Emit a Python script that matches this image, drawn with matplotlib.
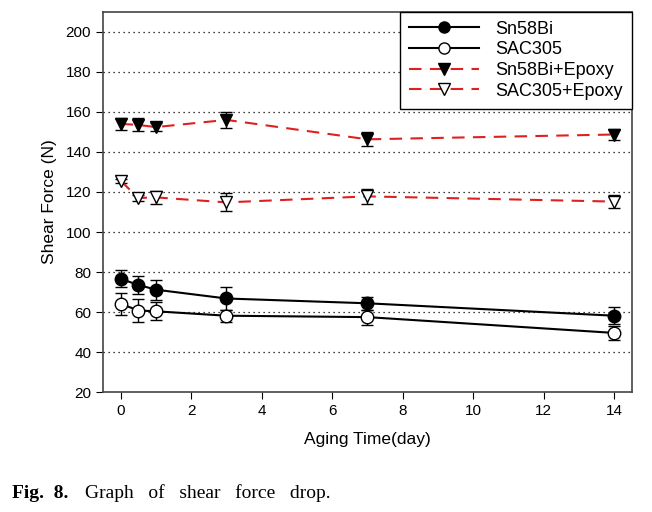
import matplotlib.pyplot as plt
from matplotlib.lines import Line2D

days = [0, 0.5, 1, 3, 7, 14]

sn58bi = [76.6, 73.6, 71.2, 66.8, 64.4, 58.2]
sn58bi_err = [4.2, 4.4, 5.0, 5.7, 3.3, 4.2]

sac305 = [64.2, 60.8, 60.4, 58.2, 57.5, 49.6]
sac305_err = [5.5, 5.5, 4.5, 3.0, 3.7, 3.3]

sn58bi_epoxy = [154.0, 153.5, 152.4, 156.0, 146.3, 148.7]
sn58bi_epoxy_err = [3.0, 3.2, 2.0, 4.0, 3.5, 2.8]

sac305_epoxy = [125.6, 117.0, 117.3, 114.8, 117.8, 115.2]
sac305_epoxy_err = [1.0, 1.5, 3.3, 4.5, 3.8, 3.3]

labels = ["Sn58Bi", "SAC305", "Sn58Bi+Epoxy", "SAC305+Epoxy"]
yticks = [20, 40, 60, 80, 100, 120, 140, 160, 180, 200]
xticks = [0, 2, 4, 6, 8, 10, 12, 14]

plt.rcParams["font.family"] = ["Liberation Sans", "DejaVu Sans"]

fig = plt.figure(figsize=(6.52, 5.12), dpi=100)
ax = fig.add_axes([0.158, 0.234, 0.811, 0.743])

for v in yticks[1:]:
    ax.axhline(v, color="black", linestyle=(0, (1, 3)), linewidth=0.9, zorder=0)

common = dict(capsize=4.5, elinewidth=1, capthick=1, markersize=9, markeredgecolor="black",
              markeredgewidth=1, ecolor="black")
red = "#e02020"
dash = (0, (6, 4))

ax.errorbar(days, sn58bi, yerr=sn58bi_err, color="black", linewidth=1.5, marker="o",
            markerfacecolor="black", **common)
ax.errorbar(days, sac305, yerr=sac305_err, color="black", linewidth=1.5, marker="o",
            markerfacecolor="white", **common)
ax.errorbar(days, sn58bi_epoxy, yerr=sn58bi_epoxy_err, color=red, linewidth=1.5,
            linestyle=dash, marker="v", markerfacecolor="black", **common)
ax.errorbar(days, sac305_epoxy, yerr=sac305_epoxy_err, color=red, linewidth=1.5,
            linestyle=dash, marker="v", markerfacecolor="white", **common)

ax.set_xlim(-0.5, 14.5)
ax.set_ylim(20, 210)
ax.set_xticks(xticks)
ax.set_yticks(yticks)
ax.tick_params(direction="out", length=5, labelsize=11, top=False, right=False)
for s in ax.spines.values():
    s.set_linewidth(1.2)
    s.set_color("#444444")

ax.set_xlabel("Aging Time(day)", fontsize=12.5, labelpad=10)
ax.set_ylabel("Shear Force (N)", fontsize=12.5, labelpad=6)

handles = [
    Line2D([], [], color="black", lw=1.5, marker="o", ms=8, mfc="black", mec="black"),
    Line2D([], [], color="black", lw=1.5, marker="o", ms=8, mfc="white", mec="black"),
    Line2D([], [], color=red, lw=1.5, ls=dash, marker="v", ms=8, mfc="black", mec="black"),
    Line2D([], [], color=red, lw=1.5, ls=dash, marker="v", ms=8, mfc="white", mec="black"),
]
leg = ax.legend(handles, labels, loc="upper right", bbox_to_anchor=(1.0, 1.0), fontsize=13,
                fancybox=False, framealpha=1, edgecolor="black", borderaxespad=0,
                handlelength=3.9, handletextpad=0.9, borderpad=0.5, labelspacing=0.2)
leg.get_frame().set_linewidth(1.0)

fig.text(0.019, 0.027, "Fig.  8.", fontsize=14, fontweight="bold", family="Liberation Serif")
fig.text(0.130, 0.027, "Graph   of   shear   force   drop.", fontsize=14,
         family="Liberation Serif")

fig.savefig("out.png", dpi=100)
